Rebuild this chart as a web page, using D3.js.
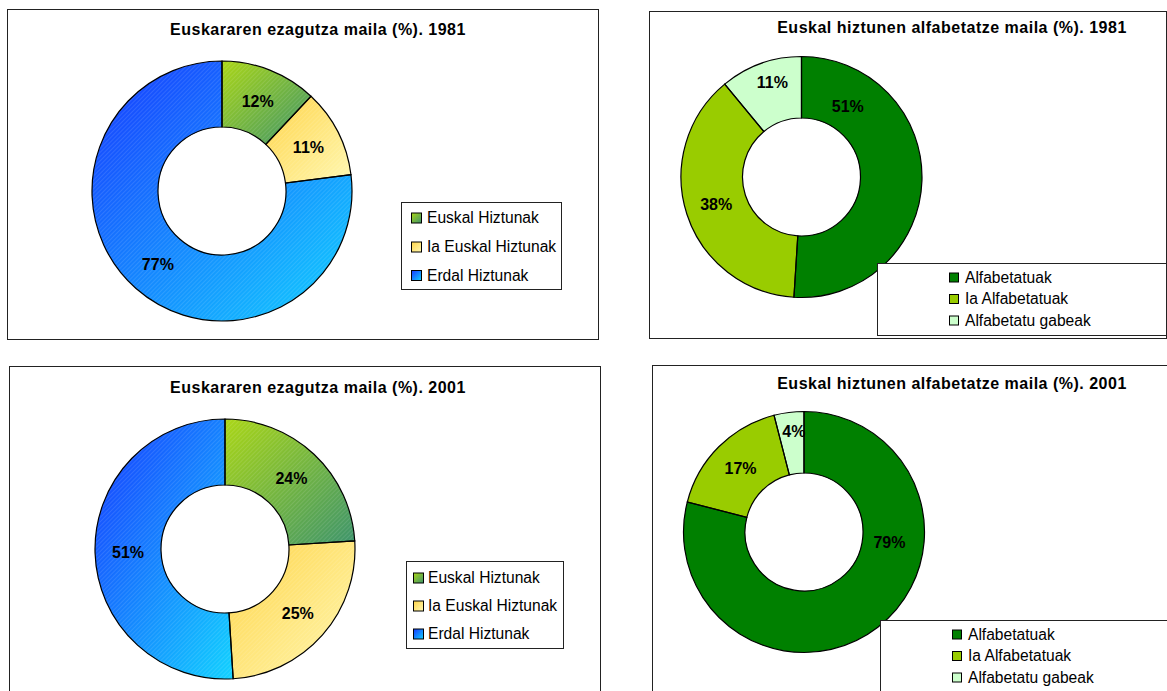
<!DOCTYPE html>
<html><head><meta charset="utf-8">
<script src="https://cdn.jsdelivr.net/npm/d3@7"></script>
<style>
html,body{margin:0;padding:0;background:#fff;}
svg{display:block;font-family:"Liberation Sans",Arial,Helvetica,sans-serif;}
</style></head>
<body>
<svg id="c" width="1167" height="691"></svg>
<script>
// ---- data ----
const euskCategories = ["Euskal Hiztunak", "Ia Euskal Hiztunak", "Erdal Hiztunak"];
const euskValues1981 = [12, 11, 77];
const euskValues2001 = [24, 25, 51];
const alfaCategories = ["Alfabetatuak", "Ia Alfabetatuak", "Alfabetatu gabeak"];
const alfaValues1981 = [51, 38, 11];
const alfaValues2001 = [79, 17, 4];
const chartTitles = [
  "Euskararen ezagutza maila (%). 1981",
  "Euskal hiztunen alfabetatze maila (%). 1981",
  "Euskararen ezagutza maila (%). 2001",
  "Euskal hiztunen alfabetatze maila (%). 2001"
];

// ---- styles ----
const euskGradients = [
  ["#aad616", "#3d946c"],
  ["#ffd448", "#fff8b2"],
  ["#1838ff", "#12d2ff"]
];
const alfaColors = ["#008000", "#99cc00", "#ccffcc"];

// ---- layout ----
const panels = [
  {title: chartTitles[0], cats: euskCategories, vals: euskValues1981, kind: "grad",
   frame: [7, 9, 598, 339], titleXY: [318, 35], center: [222, 191], R: 130, r: 64,
   legend: {box: [401, 202, 561, 289], swX: 411, txX: 427, rows: [217.5, 246.5, 275], sw: 10},
   labelAt: [null, null, null]},
  {title: chartTitles[1], cats: alfaCategories, vals: alfaValues1981, kind: "solid",
   frame: [649, 11, 1166, 338], titleXY: [952, 33], center: [801.5, 177], R: 120.5, r: 59,
   legend: {box: [877, 263, 1166, 335], swX: 949, txX: 965, rows: [277, 298.5, 320], sw: 9},
   labelAt: [[0.18, 0.42], null, [0.57, 0.66]]},
  {title: chartTitles[2], cats: euskCategories, vals: euskValues2001, kind: "grad",
   frame: [9, 366, 600, 700], titleXY: [318, 393], center: [225, 549], R: 130, r: 64,
   legend: {box: [406, 561, 563, 648], swX: 413, txX: 428, rows: [577.5, 605.5, 633.5], sw: 10},
   labelAt: [null, null, null]},
  {title: chartTitles[3], cats: alfaCategories, vals: alfaValues2001, kind: "solid",
   frame: [652, 365, 1175, 700], titleXY: [952, 389], center: [804, 532], R: 120.5, r: 59,
   legend: {box: [880, 620, 1175, 700], swX: 952, txX: 968, rows: [634, 655.5, 677], sw: 9},
   labelAt: [[0.34, 0.44], null, [0.6, 0.68]]}
];

const svg = d3.select("#c");
const defs = svg.append("defs");

// hatch pattern
const pat = defs.append("pattern").attr("id", "hatch").attr("patternUnits", "userSpaceOnUse")
  .attr("width", 3).attr("height", 3).attr("patternTransform", "rotate(45)");
pat.append("line").attr("x1", 0).attr("y1", 0).attr("x2", 0).attr("y2", 3)
  .attr("stroke", "#fff").attr("stroke-opacity", 0.22).attr("stroke-width", 1);

euskGradients.forEach((g, i) => {
  const lg = defs.append("linearGradient").attr("id", "g" + i)
    .attr("x1", 0).attr("y1", 0).attr("x2", 1).attr("y2", 1);
  lg.append("stop").attr("offset", "0%").attr("stop-color", g[0]);
  lg.append("stop").attr("offset", "100%").attr("stop-color", g[1]);
});

const fillFor = (p, i) => p.kind === "grad" ? `url(#g${i})` : alfaColors[i];

panels.forEach(p => {
  const g = svg.append("g");
  const [fx0, fy0, fx1, fy1] = p.frame;
  g.append("rect").attr("x", fx0 + 0.5).attr("y", fy0 + 0.5)
    .attr("width", fx1 - fx0).attr("height", fy1 - fy0)
    .attr("fill", "#fff").attr("stroke", "#222").attr("stroke-width", 1);

  g.append("text").attr("x", p.titleXY[0]).attr("y", p.titleXY[1])
    .attr("text-anchor", "middle").attr("font-weight", "bold")
    .attr("font-size", 16).attr("letter-spacing", 0.5).attr("fill", "#000")
    .text(p.title);

  const pie = d3.pie().sort(null).value(d => d).startAngle(0).endAngle(2 * Math.PI);
  const arcs = pie(p.vals);
  const arc = d3.arc().innerRadius(p.r).outerRadius(p.R);
  const dg = g.append("g").attr("transform", `translate(${p.center[0]},${p.center[1]})`);

  dg.selectAll("path.s").data(arcs).join("path").attr("class", "s")
    .attr("d", arc).attr("fill", (d, i) => fillFor(p, i));
  if (p.kind === "grad") {
    dg.selectAll("path.h").data(arcs).join("path").attr("class", "h")
      .attr("d", arc).attr("fill", "url(#hatch)");
  }
  dg.selectAll("path.o").data(arcs).join("path").attr("class", "o")
    .attr("d", arc).attr("fill", "none").attr("stroke", "#000").attr("stroke-width", 1.2);

  dg.selectAll("text.l").data(arcs).join("text").attr("class", "l")
    .attr("transform", (d, i) => {
      const la = p.labelAt[i] || [0.5, 0.5];
      const a = d.startAngle + (d.endAngle - d.startAngle) * la[0];
      const rad = p.r + (p.R - p.r) * la[1];
      return `translate(${rad * Math.sin(a)},${-rad * Math.cos(a)})`;
    })
    .attr("text-anchor", "middle").attr("dy", "0.36em")
    .attr("font-weight", "bold").attr("font-size", 16).attr("fill", "#000")
    .text(d => d.data + "%");

  // legend
  const L = p.legend;
  g.append("rect").attr("x", L.box[0] + 0.5).attr("y", L.box[1] + 0.5)
    .attr("width", L.box[2] - L.box[0]).attr("height", L.box[3] - L.box[1])
    .attr("fill", "#fff").attr("stroke", "#222").attr("stroke-width", 1);
  p.cats.forEach((c, i) => {
    g.append("rect").attr("x", L.swX + 0.5).attr("y", L.rows[i] - L.sw / 2 + 0.5)
      .attr("width", L.sw).attr("height", L.sw)
      .attr("fill", fillFor(p, i)).attr("stroke", "#000").attr("stroke-width", 1);
    g.append("text").attr("x", L.txX).attr("y", L.rows[i]).attr("dy", "0.36em")
      .attr("font-size", 15.6).attr("fill", "#000").text(c);
  });
});
</script>
</body></html>
